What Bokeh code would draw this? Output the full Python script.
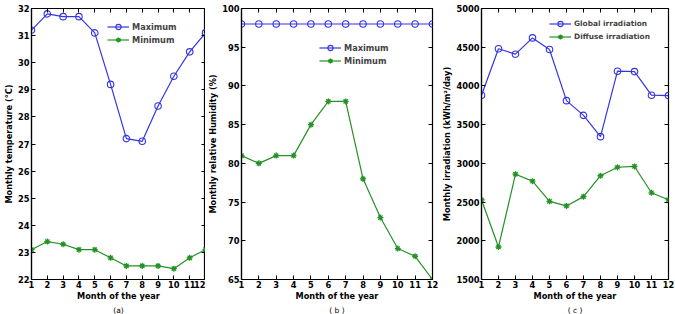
from bokeh.plotting import figure
from bokeh.layouts import row
from bokeh.models import Legend, LegendItem, LinearAxis, Range1d, FixedTicker, Title
from bokeh.embed import file_html
from bokeh.resources import INLINE

months = list(range(1, 13))
temp_max = [31.2, 31.8, 31.7, 31.7, 31.1, 29.2, 27.2, 27.1, 28.4, 29.5, 30.4, 31.1]
temp_min = [23.1, 23.4, 23.3, 23.1, 23.1, 22.8, 22.5, 22.5, 22.5, 22.4, 22.8, 23.1]
hum_max = [98, 98, 98, 98, 98, 98, 98, 98, 98, 98, 98, 98]
hum_min = [81, 80, 81, 81, 85, 88, 88, 78, 73, 69, 68, 65]
irr_global = [3880, 4480, 4410, 4620, 4470, 3810, 3620, 3345, 4190, 4185, 3880, 3875]
irr_diffuse = [2530, 1920, 2860, 2770, 2510, 2450, 2570, 2840, 2950, 2960, 2620, 2530]

BLUE = "#3535e2"
GREEN = "#249224"
FONT = "DejaVu Sans"


def make(width, left, right, top, bottom, yr, ystep, ylabel, s1, s2, names, legloc, caption, legfont):
    yticks = list(range(int(yr[0]), int(yr[1]) + 1, ystep))
    p = figure(width=width, height=314, output_backend="svg", toolbar_location=None,
               x_range=Range1d(1, 12), y_range=Range1d(*yr),
               min_border_left=left, min_border_right=right,
               min_border_top=top, min_border_bottom=bottom)
    p.xgrid.visible = False
    p.ygrid.visible = False
    p.outline_line_color = "black"
    p.outline_line_width = 1.2
    p.background_fill_color = "white"
    p.border_fill_color = "white"
    for ax in (p.xaxis[0], p.yaxis[0]):
        ax.major_tick_in = 4
        ax.major_tick_out = 0
        ax.minor_tick_in = 0
        ax.minor_tick_out = 0
        ax.axis_line_width = 1.2
        ax.major_label_text_font = FONT
        ax.major_label_text_font_style = "bold"
        ax.major_label_text_font_size = "8.3px"
        ax.major_label_text_color = "black"
        ax.axis_label_text_font = FONT
        ax.axis_label_text_font_style = "bold"
        ax.axis_label_text_font_size = "8.2px"
        ax.axis_label_text_color = "black"
    p.xaxis.ticker = FixedTicker(ticks=months)
    p.yaxis.ticker = FixedTicker(ticks=yticks)
    p.xaxis.axis_label = "Month of the year"
    p.yaxis.axis_label = ylabel
    p.yaxis.major_label_standoff = 2
    p.yaxis.axis_label_standoff = 1
    p.xaxis.major_label_standoff = 1
    p.xaxis.axis_label_standoff = 0

    # box ticks on the top and right (no labels)
    for side, tks in (("above", months), ("right", yticks)):
        ax = LinearAxis(ticker=FixedTicker(ticks=tks),
                        major_tick_in=4, major_tick_out=0, minor_tick_in=0, minor_tick_out=0,
                        major_label_text_font_size="1px", major_label_text_color=None,
                        major_label_standoff=0, axis_line_color=None)
        p.add_layout(ax, side)

    l1 = p.line(months, s1, line_color=BLUE, line_width=1.2)
    m1 = p.scatter(months, s1, marker="circle", size=6.5, fill_color=None, line_color=BLUE, line_width=1.1)
    l2 = p.line(months, s2, line_color=GREEN, line_width=1.2)
    m2 = p.scatter(months, s2, marker="asterisk", size=6, line_color=GREEN, line_width=1.3)

    legend = Legend(items=[LegendItem(label=names[0], renderers=[l1, m1]),
                           LegendItem(label=names[1], renderers=[l2, m2])],
                    location=legloc, padding=0, spacing=0, margin=0,
                    glyph_width=22, glyph_height=13, label_height=13, label_standoff=3,
                    label_text_font=FONT, label_text_font_style="bold", label_text_font_size=legfont,
                    border_line_alpha=0, background_fill_alpha=0)
    p.add_layout(legend)
    p.add_layout(Title(text=caption, align="center", text_font=FONT, text_font_size="7.5px",
                       text_font_style="normal", text_color="black", standoff=0, offset=0), "below")
    return p


pa = make(205, 29, 0, 6, 32, (22, 32), 1, "Monthly temperature (°C)", temp_max, temp_min,
          ("Maximum", "Minimum"), (76, 233), "(a)", "8.2px")
pb = make(233, 36, 6, 8, 32, (65, 100), 5, "Monthly relative Humidity (%)", hum_max, hum_min,
          ("Maximum", "Minimum"), (78, 212), "( b )", "8.2px")
pc = make(237, 43, 7, 7, 28, (1500, 5000), 500, "Monthly irradiation (kWh/m²/day)", irr_global, irr_diffuse,
          ("Global irradiation", "Diffuse irradiation"), (68, 236), "( c )", "7.4px")

layout = row(pa, pb, pc)
open("out.html", "w").write(file_html(layout, INLINE))
